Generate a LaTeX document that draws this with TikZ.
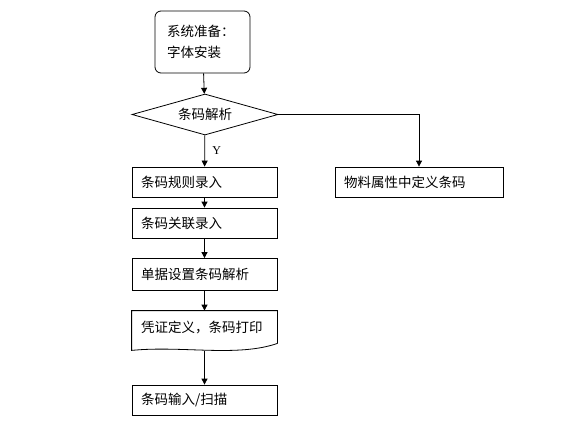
\documentclass[tikz,border=0pt]{standalone}
\usepackage{xcolor}
\usepackage{fontspec}
\setmainfont{Liberation Serif}
\newfontfamily\cjk{Noto Sans CJK SC}
\usetikzlibrary{positioning, arrows.meta, shapes.geometric, calc}

\tikzset{
  procbox/.style={draw=black, rectangle, minimum width=145pt, minimum height=30pt,
    inner xsep=9pt, inner ysep=0pt, text width=127pt, align=left,
    font=\cjk\fontsize{13.5}{15}\selectfont},
  startbox/.style={draw=black, rectangle, rounded corners=6pt, minimum width=95pt,
    minimum height=62pt, inner xsep=12pt, text width=71pt, align=left,
    font=\cjk\fontsize{13.5}{21}\selectfont},
  decision/.style={draw=black, diamond, aspect=3.56, inner sep=0pt,
    minimum width=146pt, minimum height=41pt, font=\cjk\fontsize{13.5}{15}\selectfont},
  flowarrow/.style={draw=black, -{Triangle[width=6pt,length=6pt]}}
}

\begin{document}
\begin{tikzpicture}[x=1pt, y=-1pt, line width=0.8pt]
    \useasboundingbox (0,0) rectangle (576,426);

    \node[startbox] (prep) at (202.5,42) {系统准备：\\字体安装};
    \node[decision] (parse) at (205,114.5) {条码解析};
    \node[procbox] (rule) at (204.5,182) {条码规则录入};
    \node[procbox] (assoc) at (204.5,223) {条码关联录入};
    \node[procbox, minimum height=32pt] (bill) at (204.5,274.5) {单据设置条码解析};
    \node[procbox, draw=none, minimum height=32pt] (voucher) at (204.5,327) {凭证定义，条码打印};
    \node[procbox] (scan) at (204.5,400) {条码输入/扫描};
    \node[procbox, minimum width=168pt, text width=150pt] (attr) at (419,182) {物料属性中定义条码};

    % document shape with wavy bottom
    \draw (voucher.south east) -- (voucher.north east) -- (voucher.north west)
      -- ($(voucher.south west)+(0,7)$)
      .. controls ($(voucher.south west)+(50,2)$) and ($(voucher.south east)+(-40,14)$)
      .. (voucher.south east);
    \coordinate (wave) at ($(voucher.south)+(0,8)$);

    \draw[flowarrow] (prep) -- (parse);
    \draw[flowarrow] (parse) -- node[right=4pt, font=\fontsize{12}{14}\selectfont] {Y} (rule);
    \draw[flowarrow] (rule) -- (assoc);
    \draw[flowarrow] (assoc) -- (bill);
    \draw[flowarrow] (bill) -- (voucher);
    \draw[flowarrow] (wave) -- (scan);
    \draw[flowarrow] (parse.east) -| (attr.north);
  \end{tikzpicture}
\end{document}
